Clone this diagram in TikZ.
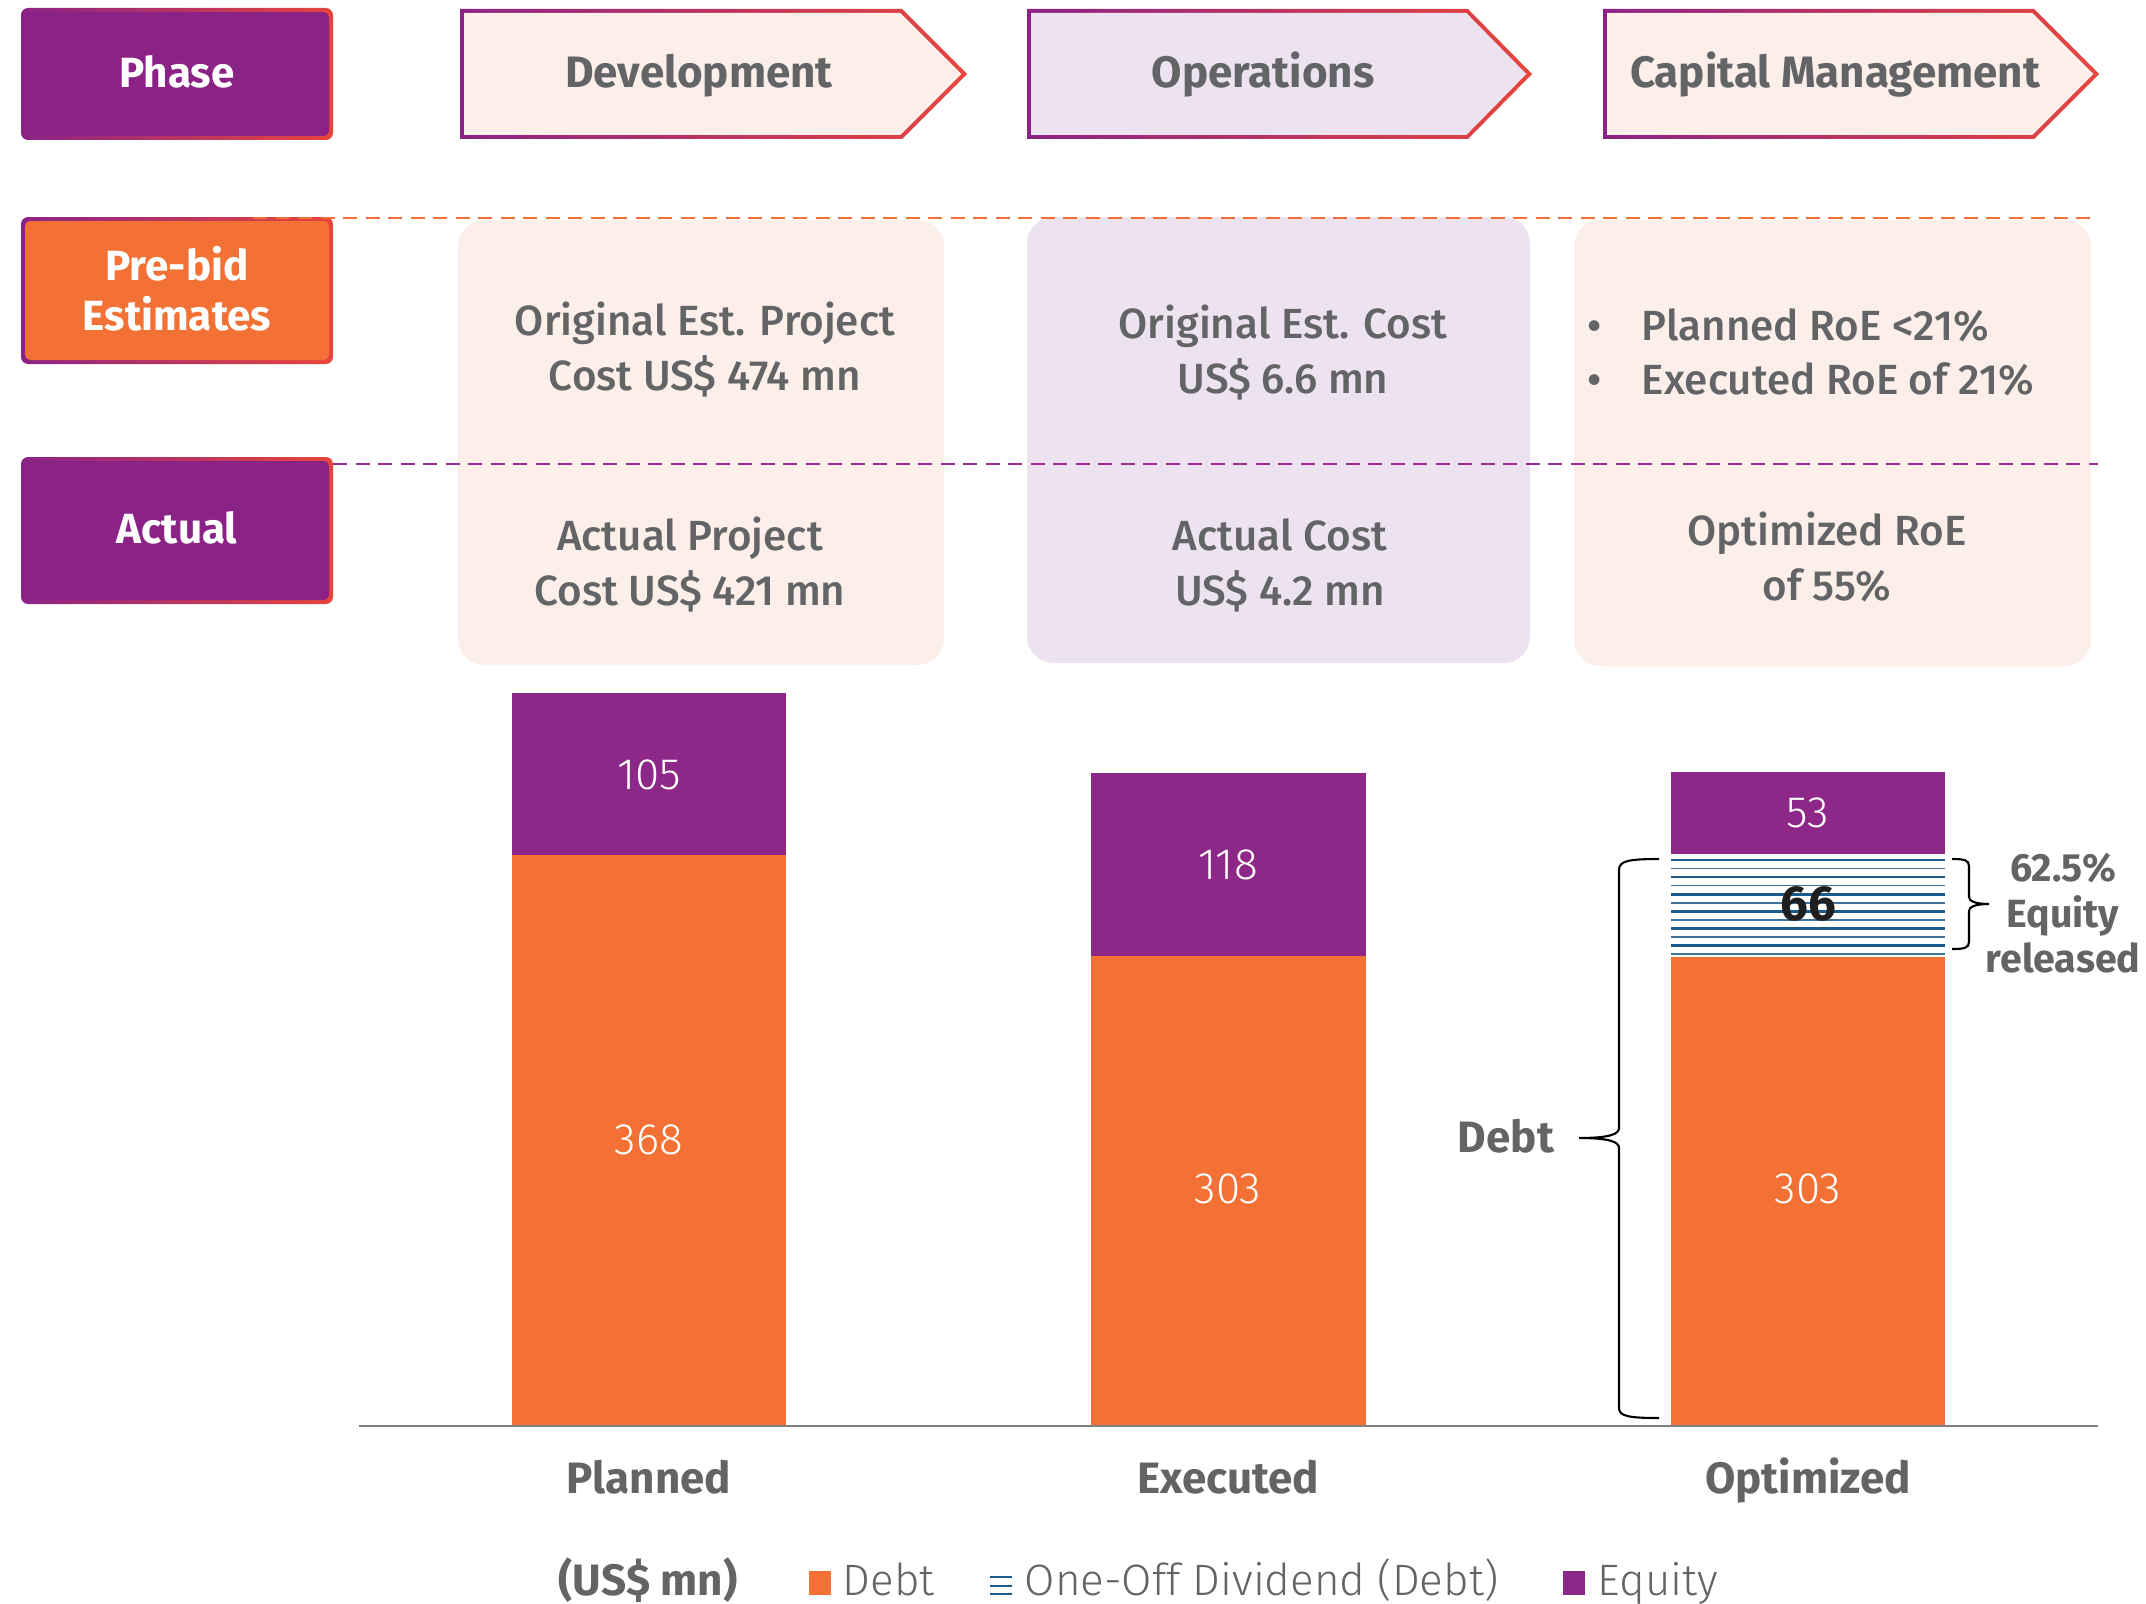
\documentclass[tikz,border=0pt]{standalone}
\usepackage{fontspec}
\setmainfont{Fira Sans}
\newfontfamily\medfont{Fira Sans Medium}
\newfontfamily\lightfont{Fira Sans Light}
\definecolor{phpurple}{HTML}{8B2386}
\definecolor{phred}{HTML}{E8453C}
\definecolor{orng}{HTML}{F37134}
\definecolor{eqpurple}{HTML}{8E2888}
\definecolor{lpink}{HTML}{FCEFEA}
\definecolor{llav}{HTML}{EDE3F0}
\definecolor{txtgray}{HTML}{636466}
\definecolor{hatchblue}{HTML}{1D5A8C}
\definecolor{axisgray}{HTML}{808080}
\definecolor{dashpurple}{HTML}{9A2C91}
\begin{document}
\begin{tikzpicture}[x=0.01cm,y=-0.01cm,
  lblw/.style={font=\bfseries\fontsize{12}{14.2}\selectfont,text=white,align=center,anchor=base},
  hdr/.style={font=\bfseries\fontsize{12.5}{15}\selectfont,text=txtgray,anchor=base},
  boxtxt/.style={font=\medfont\fontsize{12}{15.6}\selectfont,text=txtgray,align=center,anchor=base},
  barnum/.style={font=\lightfont\fontsize{12.5}{15}\selectfont,text=white},
  catlbl/.style={font=\bfseries\fontsize{12.5}{15}\selectfont,text=txtgray,anchor=base},
  legtxt/.style={font=\lightfont\fontsize{12.5}{15}\selectfont,text=txtgray,anchor=base west,inner sep=0pt},
  brace/.style={draw=black,line width=0.6pt},
  gradborder/.style={left color=phpurple,right color=phred}]
\useasboundingbox (0,0) rectangle (2146,1603);

% ---- row labels ----
\shade[gradborder,rounded corners=2pt] (21,8) rectangle (333,140);
\fill[phpurple,rounded corners=1.5pt] (25,12) rectangle (329,136);
\node[lblw] (phase) at (177,88) {Phase};

\shade[gradborder,rounded corners=2pt] (21,217) rectangle (333,364);
\fill[orng,rounded corners=1.5pt] (25,221) rectangle (329,360);
\node[lblw] (prebid) at (177,330) {Pre-bid\\Estimates};

\shade[gradborder,rounded corners=2pt] (21,457) rectangle (333,604);
\fill[phpurple,rounded corners=1.5pt] (25,461) rectangle (329,600);
\node[lblw] (actual) at (177,543) {Actual};

% ---- phase arrows ----
\shade[gradborder] (460,9) -- (902,9) -- (967,74) -- (902,139) -- (460,139) -- cycle;
\fill[lpink] (464,13) -- (900.3,13) -- (961.3,74) -- (900.3,135) -- (464,135) -- cycle;
\node[hdr] (dev) at (699,88) {Development};

\shade[gradborder] (1027,9) -- (1468,9) -- (1532,74) -- (1468,139) -- (1027,139) -- cycle;
\fill[llav] (1031,13) -- (1466.3,13) -- (1526.3,74) -- (1466.3,135) -- (1031,135) -- cycle;
\node[hdr] (ops) at (1263,88) {Operations};

\shade[gradborder] (1603,9) -- (2034,9) -- (2099,74) -- (2034,139) -- (1603,139) -- cycle;
\fill[lpink] (1607,13) -- (2032.3,13) -- (2093.3,74) -- (2032.3,135) -- (1607,135) -- cycle;
\node[hdr] (cap) at (1835,88) {Capital Management};

% ---- text panels ----
\fill[lpink,rounded corners=7.5pt] (458,220) rectangle (944,665);
\fill[llav,rounded corners=7.5pt] (1027,217) rectangle (1530,663);
\fill[lpink,rounded corners=7.5pt] (1574,220) rectangle (2091,666);

\draw[orng,line width=0.7pt,dash pattern=on 4pt off 2.4pt] (253,218) -- (2098,218);
\draw[dashpurple,line width=0.7pt,dash pattern=on 4pt off 2.4pt] (333,464) -- (2098,464);

\node[boxtxt] (devest) at (705,390) {Original Est. Project\\Cost US\$ 474 mn};
\node[boxtxt] (devact) at (690,605) {Actual Project\\Cost US\$ 421 mn};
\node[boxtxt] (opsest) at (1283,393) {Original Est. Cost\\US\$ 6.6 mn};
\node[boxtxt] (opsact) at (1280,605) {Actual Cost\\US\$ 4.2 mn};
\node[boxtxt,anchor=base west,inner sep=0pt] (capest) at (1587,340)
  {\begin{tabular}[t]{@{}p{15.4pt}@{}l@{}}•&Planned RoE <21\%\\•&Executed RoE of 21\%\end{tabular}};
\node[boxtxt] (capact) at (1827,600) {Optimized RoE\\of 55\%};

% ---- bars ----
\fill[orng] (512,855) rectangle (786,1426);
\fill[eqpurple] (512,693) rectangle (786,855);
\fill[orng] (1091,956) rectangle (1366,1426);
\fill[eqpurple] (1091,773) rectangle (1366,956);
\fill[orng] (1671,957) rectangle (1945,1426);
\fill[eqpurple] (1671,772) rectangle (1945,854);
\foreach \yy in {860,877.1,894.2,911.3,928.4,945.5}
  \draw[hatchblue,line width=0.75pt] (1671,\yy) -- (1945,\yy);
\foreach \yy in {868.55,885.65,902.75,919.85,936.95,954.05}
  \draw[hatchblue!85,line width=0.45pt] (1671,\yy) -- (1945,\yy);

\draw[axisgray,line width=0.7pt] (359,1426) -- (2098,1426);

\node[barnum] (n105) at (649,775) {105};
\node[barnum] (n368) at (649,1140) {368};
\node[barnum] (n118) at (1228,865) {118};
\node[barnum] (n303a) at (1228,1189) {303};
\node[barnum] (n53) at (1808,813) {53};
\node[font=\bfseries\fontsize{14}{16}\selectfont,text=black!88] (n66) at (1808,904) {66};
\node[barnum] (n303b) at (1808,1189) {303};

\node[catlbl] (cpl) at (649,1493) {Planned};
\node[catlbl] (cex) at (1228,1493) {Executed};
\node[catlbl] (cop) at (1808,1493) {Optimized};

% ---- braces ----
\draw[brace] (1659,859) .. controls (1628,859) and (1619,861) .. (1619,870) -- (1619,1128)
  .. controls (1619,1134) and (1610,1138) .. (1579,1138)
  .. controls (1610,1138) and (1619,1142) .. (1619,1148) -- (1619,1408)
  .. controls (1619,1416) and (1628,1418) .. (1659,1418);
\node[catlbl] (debtlbl) at (1506,1152) {Debt};

\draw[brace] (1952,859) .. controls (1964,859) and (1969,860) .. (1969,866) -- (1969,897)
  .. controls (1969,901) and (1975,904) .. (1989,904)
  .. controls (1975,904) and (1969,907) .. (1969,911) -- (1969,942)
  .. controls (1969,948) and (1964,949) .. (1952,949);
\node[catlbl,font=\bfseries\fontsize{11.2}{12.8}\selectfont,align=center] (eqrel) at (2063,972) {62.5\%\\Equity\\released};

% ---- legend ----
\node[legtxt,font=\bfseries\fontsize{12.5}{15}\selectfont] (unit) at (558,1595) {(US\$ mn)};
\fill[orng] (809,1571) rectangle (831,1595);
\node[legtxt] (legdebt) at (842,1595) {Debt};
\draw[hatchblue,line width=0.4pt] (990,1577) -- (1012,1577);
\draw[hatchblue,line width=0.8pt] (990,1586) -- (1012,1586);
\draw[hatchblue,line width=0.4pt] (990,1594) -- (1012,1594);
\node[legtxt] (legdiv) at (1024,1595) {One-Off Dividend (Debt)};
\fill[eqpurple] (1563,1571) rectangle (1585,1595);
\node[legtxt] (legeq) at (1597,1595) {Equity};
\end{tikzpicture}
\end{document}
